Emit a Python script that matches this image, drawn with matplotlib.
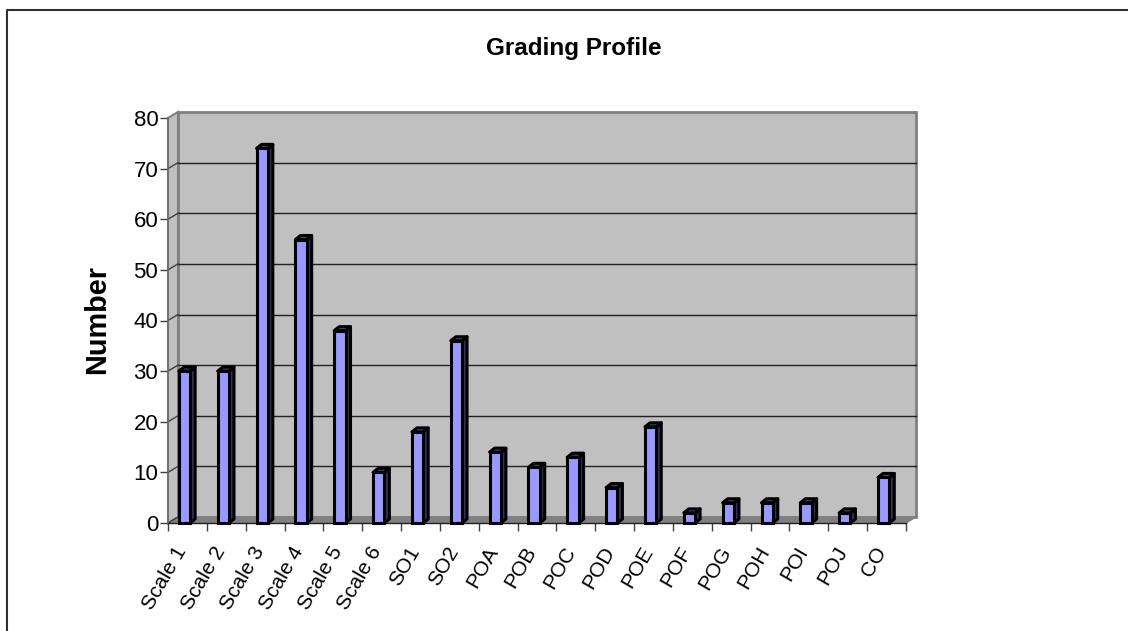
import matplotlib
matplotlib.use('Agg')
import matplotlib.pyplot as plt
from matplotlib.patches import Polygon, Rectangle

plt.rcParams['font.family'] = ['Liberation Sans', 'DejaVu Sans']

categories = ['Scale 1', 'Scale 2', 'Scale 3', 'Scale 4', 'Scale 5', 'Scale 6',
              'SO1', 'SO2', 'POA', 'POB', 'POC', 'POD', 'POE', 'POF', 'POG',
              'POH', 'POI', 'POJ', 'CO']
values = [30, 30, 74, 56, 38, 10, 18, 36, 14, 11, 13, 7, 19, 2, 4, 4, 4, 2, 9]
y_ticks = [0, 10, 20, 30, 40, 50, 60, 70, 80]

W, H = 1128, 631
fig = plt.figure(figsize=(W / 100, H / 100), dpi=100)

# front plane of the fake 3d box, in pixels
left, right, bottom, top = 168, 906, 523, 118
ax = fig.add_axes([left / W, 1 - bottom / H, (right - left) / W, (bottom - top) / H])
ax.set_xlim(0, len(categories))
ax.set_ylim(0, 80)
ax.patch.set_visible(False)
for s in ax.spines.values():
    s.set_visible(False)

# depth of the box in data units
dx = 10 / ((right - left) / len(categories))
dy = 6 / ((bottom - top) / 80)
n = len(categories)

# outer border, only left and top are inside the picture
fig.add_artist(plt.Line2D([6.8 / W, 6.8 / W, 1], [0, 1 - 10 / H, 1 - 10 / H],
                          transform=fig.transFigure, color='#303030', lw=1.5))

# back wall, side wall, floor
ax.add_patch(Rectangle((dx, dy), n, 80, fc='#c0c0c0', ec='#808080', lw=2, clip_on=False, zorder=1))
ax.add_patch(Polygon([(0, 0), (dx, dy), (dx, 80 + dy), (0, 80)], fc='#c0c0c0', ec='#808080', lw=1.5, clip_on=False, zorder=1))
ax.add_patch(Polygon([(0, 0), (n, 0), (n + dx, dy), (dx, dy)], fc='#808080', ec='#808080', lw=1, clip_on=False, zorder=1))

# gridlines
for v in y_ticks[1:-1]:
    ax.plot([dx, n + dx], [v + dy, v + dy], color='#202020', lw=1, clip_on=False, zorder=2)
for v in y_ticks[:-1]:
    ax.plot([0, dx], [v, v + dy], color='#404040', lw=1, clip_on=False, zorder=2)

# axis lines
ax.plot([0, 0], [0, 80], color='#707070', lw=1.2, clip_on=False, zorder=2)
ax.plot([0, n], [0, 0], color='#202020', lw=1, clip_on=False, zorder=2)

# bars
bw = 0.29
bdx = 5 / ((right - left) / n)
bdy = 4 / ((bottom - top) / 80)
for i, v in enumerate(values):
    x0 = i + 0.28
    ax.add_patch(Polygon([(x0 + bw, 0), (x0 + bw + bdx, bdy), (x0 + bw + bdx, v + bdy), (x0 + bw, v)],
                         fc='#33335a', ec='black', lw=2.2, clip_on=False, zorder=3, joinstyle='round'))
    ax.add_patch(Polygon([(x0, v), (x0 + bdx, v + bdy), (x0 + bw + bdx, v + bdy), (x0 + bw, v)],
                         fc='#4c4c80', ec='black', lw=2.2, clip_on=False, zorder=3, joinstyle='round'))
    ax.add_patch(Rectangle((x0, 0), bw, v, fc='#9999ff', ec='black', lw=2.2, clip_on=False, zorder=4))

ax.set_yticks(y_ticks)
ax.set_yticklabels([str(v) for v in y_ticks], fontsize=16)
ax.set_xticks(range(n + 1))
ax.set_xticklabels([''] * (n + 1))
ax.tick_params(axis='both', length=6, width=1, color='#404040', pad=1)

# rotated category labels, anchored at their top right end
for i, c in enumerate(categories):
    ax.annotate(c, xy=(i + 0.5, 0), xycoords='data', xytext=(-5, -25), textcoords='offset pixels',
                rotation=60, rotation_mode='anchor', ha='right', va='center', fontsize=15, annotation_clip=False)

fig.text(573.5 / W, 1 - 48 / H, 'Grading Profile', ha='center', va='center', fontsize=17.5, fontweight='bold')
fig.text(97 / W, 1 - 320 / H, 'Number', ha='center', va='center', rotation=90, fontsize=20.8, fontweight='bold')

fig.savefig('out.png', dpi=100)
